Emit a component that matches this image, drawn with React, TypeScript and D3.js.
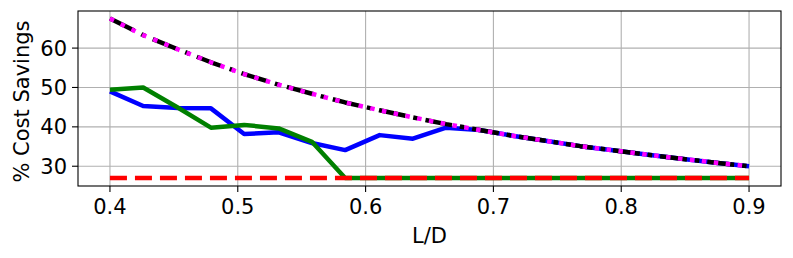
import React from 'react';
import * as d3 from 'd3';

// L/D sample points along the x axis
const ldValues = [0.4, 0.426, 0.453, 0.479, 0.505, 0.532, 0.558, 0.584, 0.611, 0.637,
  0.663, 0.689, 0.716, 0.742, 0.768, 0.795, 0.821, 0.847, 0.874, 0.9];

// % cost savings per series
const blueSeries = [49.0, 45.3, 44.8, 44.7, 38.2, 38.6, 35.9, 34.1, 37.9, 37.0,
  39.8, 39.2, 37.7, 36.4, 35.1, 34.0, 32.9, 31.9, 30.9, 30.0];
const greenSeries = [49.4, 50.0, 44.9, 39.8, 40.5, 39.6, 36.2, 27.0, 27.0, 27.0,
  27.0, 27.0, 27.0, 27.0, 27.0, 27.0, 27.0, 27.0, 27.0, 27.0];
const redSeries = [27.0, 27.0, 27.0, 27.0, 27.0, 27.0, 27.0, 27.0, 27.0, 27.0,
  27.0, 27.0, 27.0, 27.0, 27.0, 27.0, 27.0, 27.0, 27.0, 27.0];
const boundSeries = [67.5, 63.3, 59.7, 56.4, 53.4, 50.7, 48.4, 46.2, 44.2, 42.4,
  40.7, 39.2, 37.7, 36.4, 35.1, 34.0, 32.9, 31.9, 30.9, 30.0];

const xTicks = [0.4, 0.5, 0.6, 0.7, 0.8, 0.9];
const yTicks = [30, 40, 50, 60];

const W = 793;
const H = 258;
const margin = { top: 11, right: 12, bottom: 72, left: 78 };
const font = 'DejaVu Sans, sans-serif';
const fs = 21;

export default function App() {
  const x = d3.scaleLinear().domain([0.375, 0.925]).range([margin.left, W - margin.right]);
  const y = d3.scaleLinear().domain([24.98, 69.42]).range([H - margin.bottom, margin.top]);

  const line = (vals: number[]) =>
    d3.line<number>().x((_, i) => x(ldValues[i])).y((d) => y(d))(vals) || '';

  const x0 = margin.left;
  const x1 = W - margin.right;
  const y0 = H - margin.bottom;
  const y1 = margin.top;
  const lw = 4.5;

  return (
    <svg width={W} height={H} style={{ position: 'absolute', left: 0, top: 0, background: '#fff' }}>
      <defs>
        <clipPath id="plot">
          <rect x={x0} y={y1} width={x1 - x0} height={y0 - y1} />
        </clipPath>
      </defs>

      {/* grid */}
      {xTicks.map((t) => (
        <line key={'gx' + t} x1={x(t)} x2={x(t)} y1={y1} y2={y0} stroke="#b0b0b0" strokeWidth={1.1} />
      ))}
      {yTicks.map((t) => (
        <line key={'gy' + t} x1={x0} x2={x1} y1={y(t)} y2={y(t)} stroke="#b0b0b0" strokeWidth={1.1} />
      ))}

      <g clipPath="url(#plot)" fill="none" strokeLinejoin="round">
        <path d={line(blueSeries)} stroke="#0000ff" strokeWidth={lw} />
        <path d={line(greenSeries)} stroke="#008000" strokeWidth={lw} />
        <path d={line(redSeries)} stroke="#ff0000" strokeWidth={lw} strokeDasharray="17,8" />
        <path d={line(boundSeries)} stroke="#000000" strokeWidth={lw} strokeDasharray="27,8,4.5,8" />
        <path d={line(boundSeries)} stroke="#ff00ff" strokeWidth={lw} strokeDasharray="4.5,7.5" />
      </g>

      {/* spines */}
      <rect x={x0} y={y1} width={x1 - x0} height={y0 - y1} fill="none" stroke="#000" strokeWidth={1.1} />

      {/* x axis ticks */}
      {xTicks.map((t) => (
        <g key={'xt' + t}>
          <line x1={x(t)} x2={x(t)} y1={y0} y2={y0 + 6} stroke="#000" strokeWidth={1.1} />
          <text x={x(t)} y={y0 + 28} textAnchor="middle" fontFamily={font} fontSize={fs}>
            {t.toFixed(1)}
          </text>
        </g>
      ))}
      {/* y axis ticks */}
      {yTicks.map((t) => (
        <g key={'yt' + t}>
          <line x1={x0 - 6} x2={x0} y1={y(t)} y2={y(t)} stroke="#000" strokeWidth={1.1} />
          <text x={x0 - 11} y={y(t)} dy="0.36em" textAnchor="end" fontFamily={font} fontSize={fs}>
            {t}
          </text>
        </g>
      ))}

      <text x={(x0 + x1) / 2} y={y0 + 57} textAnchor="middle" fontFamily={font} fontSize={fs}>
        L/D
      </text>
      <text
        transform={`translate(29,${(y0 + y1) / 2 + 3}) rotate(-90)`}
        textAnchor="middle"
        fontFamily={font}
        fontSize={fs}
      >
        % Cost Savings
      </text>
    </svg>
  );
}
